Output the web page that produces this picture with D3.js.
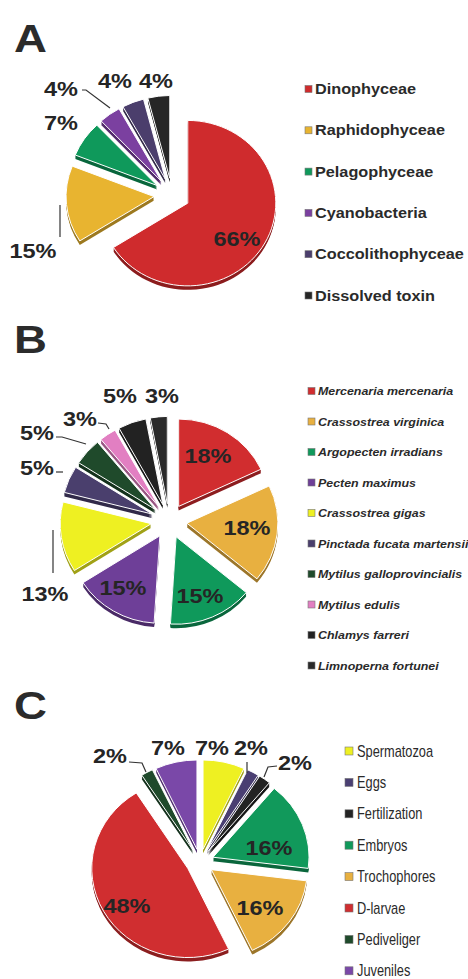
<!DOCTYPE html>
<html><head><meta charset="utf-8">
<script src="https://cdn.jsdelivr.net/npm/d3@7"></script>
<style>html,body{margin:0;padding:0;background:#fff;} svg{display:block}</style>
</head><body><svg id="chart" width="468" height="979"></svg>
<script>
// ---------- Panel A data ----------
const catsA = ["Dinophyceae","Raphidophyceae","Pelagophyceae","Cyanobacteria","Coccolithophyceae","Dissolved toxin"];
const valsA = [66,15,7,4,4,4];
const colorsA = ["#cf2b2d","#e8b430","#0f995b","#7b40a0","#4b3e6c","#262626"];

// ---------- Panel B data ----------
const catsB = ["Mercenaria mercenaria","Crassostrea virginica","Argopecten irradians","Pecten maximus","Crassostrea gigas","Pinctada fucata martensii","Mytilus galloprovincialis","Mytilus edulis","Chlamys farreri","Limnoperna fortunei"];
const valsB = [18,18,15,15,13,5,5,3,5,3];
const colorsB = ["#d12d2f","#e8b040","#0f995b","#6e3f98","#eef022","#4a3f6d","#1f4a2b","#e27fc2","#222222","#2a2a2a"];

// ---------- Panel C data ----------
const catsC = ["Spermatozoa","Eggs","Fertilization","Embryos","Trochophores","D-larvae","Pediveliger","Juveniles"];
const valsC = [7,2,2,16,16,48,2,7];
const colorsC = ["#eef022","#4a3f72","#232323","#11995b","#e8b040","#d02e30","#1f4a2b","#7a48a8"];

// ---------- Layout (styles / positions) ----------
const svg = d3.select("#chart");
const LABEL_FONT = "'Liberation Sans', Arial, sans-serif";

const layoutA = {cx:172, cy:195, r:88, k:0.94, explode:18, depth:4,
  labels:[[237,238],[33,250],[61,122],[61,88],[115,80],[156,80]],
  leaders:[null,[[60,205],[60,237]],null,[[82,90],[86,90],[110,108]],null,null]};
const layoutB = {cx:169, cy:521, r:91, k:0.96, explode:18, depth:4,
  labels:[[208,455],[247,527],[200,595],[123,587],[45,593],[37,467],[37,432],[80,418],[120,395],[162,395]],
  leaders:[null,null,null,null,[[53,530],[53,573]],[[56,472],[63,472]],[[56,437],[62,437],[86,444]],[[98,423],[106,424],[109,429]],null,null]};
const layoutC = {cx:200, cy:862, r:96, k:0.93, explode:14, depth:4,
  labels:[[212,747],[251,747],[295,762],[269,847],[260,907],[127,905],[110,755],[168,747]],
  leaders:[null,[[247,762],[247,773]],[[277,766],[268,767],[264,777]],null,null,null,[[129,762],[142,763],[146,772]],null]};

function stretchText(parent, x, y, txt, opts) {
  const g = parent.append("g").attr("transform", `translate(${x},${y}) scale(${opts.sx||1},1)`);
  return g.append("text")
    .attr("x",0).attr("y",0)
    .attr("text-anchor", opts.anchor||"start")
    .attr("font-family", opts.family||LABEL_FONT)
    .attr("font-size", opts.size)
    .attr("font-weight", opts.weight||"normal")
    .attr("font-style", opts.style||"normal")
    .attr("fill", opts.fill||"#222")
    .text(txt);
}

function drawPie(values, colors, L) {
  const arcs = d3.pie().sort(null).value(d=>d).startAngle(0).endAngle(2*Math.PI)(values);
  const arc = d3.arc().innerRadius(0).outerRadius(L.r);
  const g = svg.append("g").attr("transform", `translate(${L.cx},${L.cy})`);
  const off = a => {
    const m = (a.startAngle + a.endAngle)/2;
    return [L.explode*Math.sin(m), -L.explode*Math.cos(m)*L.k];
  };
  // side (3D depth)
  for (let dd = L.depth; dd >= 1; dd--) {
    g.selectAll(null).data(arcs).enter().append("path")
      .attr("d", arc)
      .attr("transform", (a,i) => { const o = off(a); return `translate(${o[0]},${o[1]+dd}) scale(1,${L.k})`; })
      .attr("fill", (a,i) => d3.color(colors[i]).darker(1.1));
  }
  // top faces
  g.selectAll(null).data(arcs).enter().append("path")
    .attr("d", arc)
    .attr("transform", (a,i) => { const o = off(a); return `translate(${o[0]},${o[1]}) scale(1,${L.k})`; })
    .attr("fill", (a,i) => colors[i])
    .attr("stroke", "#ffffff").attr("stroke-width", 1)
    .attr("vector-effect","non-scaling-stroke");
  // leaders
  const line = d3.line();
  L.leaders.forEach(p => {
    if (p) svg.append("path").attr("d", line(p)).attr("fill","none").attr("stroke","#333").attr("stroke-width",1.2);
  });
  // labels
  values.forEach((v,i) => {
    const [x,y] = L.labels[i];
    stretchText(svg, x, y+7.5, v + "%", {size:21, weight:"bold", anchor:"middle", sx:1.12, fill:"#252525"});
  });
}

function drawLegend(cats, colors, opt) {
  cats.forEach((c,i) => {
    const y = opt.y0 + i*opt.dy;
    svg.append("rect").attr("x", opt.sqx).attr("y", y - opt.sq/2).attr("width", opt.sq).attr("height", opt.sq)
      .attr("fill", colors[i]).attr("stroke","#777").attr("stroke-width",0.6);
    stretchText(svg, opt.tx, y + opt.base, c, {size:opt.size, weight:opt.weight, style:opt.style, sx:opt.sx, fill:"#2a2a2a"});
  });
}

// panel letters
[["A",52],["B",353],["C",719]].forEach(([t,y]) => stretchText(svg, 14, y, t, {size:38, weight:"bold", sx:1.2, fill:"#2b2b2b"}));

drawPie(valsA, colorsA, layoutA);
drawPie(valsB, colorsB, layoutB);
drawPie(valsC, colorsC, layoutC);

drawLegend(catsA, colorsA, {y0:89, dy:41.3, sqx:305, sq:7, tx:315, base:5, size:14, weight:"bold", sx:1.16});
drawLegend(catsB, colorsB, {y0:391, dy:30.5, sqx:308, sq:7, tx:318, base:4, size:11.3, weight:"bold", style:"italic", sx:1.1});
drawLegend(catsC, colorsC, {y0:751, dy:31.4, sqx:345, sq:8, tx:357, base:5.5, size:16, weight:"normal", sx:0.8});
</script></body></html>
